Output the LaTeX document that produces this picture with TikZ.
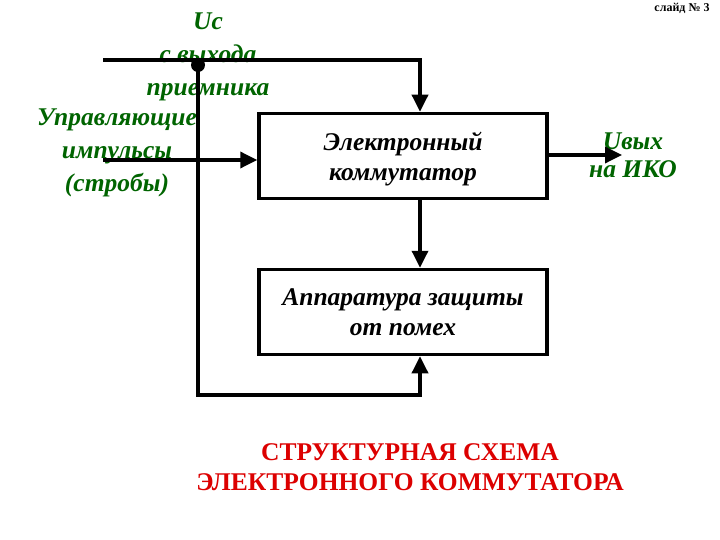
\documentclass[tikz,border=0pt]{standalone}
\usepackage{fontspec}
\setmainfont{Liberation Serif}
\usetikzlibrary{arrows.meta}
\definecolor{lblgreen}{RGB}{0,100,0}
\definecolor{ttlred}{RGB}{220,0,0}
\tikzset{
  blk/.style={draw, line width=3.5pt, minimum width=288pt, minimum height=85pt, align=center, inner sep=0pt,
    text depth=0pt, font=\fontsize{25.5}{30}\selectfont\bfseries\itshape},
  wire/.style={line width=3.5pt},
  arr/.style={line width=3.5pt, -{Triangle[length=17pt,width=16pt]}},
  glbl/.style={text=lblgreen, align=center, inner sep=0pt, font=\fontsize{25.5}{33}\selectfont\bfseries\itshape},
  ttl/.style={text=ttlred, align=center, inner sep=0pt, font=\fontsize{25.5}{30}\selectfont\bfseries},
}
\begin{document}
\begin{tikzpicture}[x=1pt,y=-1pt]
\useasboundingbox (0,0) rectangle (720,540);
\node[blk] (kom) at (403,156) {Электронный\\коммутатор};
\node[blk] (apz) at (403,312) {Аппаратура защиты\\от помех};
\coordinate (ax) at (420,0);
\coordinate (uin) at (103,60);
\coordinate (sin) at (103,160);
\coordinate (dot) at (198,65);
\coordinate (fb) at (198,395);
\coordinate (outend) at (622,155);
% labels
\node[glbl] (uc) at (208,57) {Uc\\с выхода\\приемника};
\node[glbl] (upr) at (117,153) {Управляющие\\импульсы\\(стробы)};
\node[glbl, font=\fontsize{25.5}{28}\selectfont\bfseries\itshape] (uvyx) at (633,155) {Uвых\\на ИКО};
% connectors
\draw[arr] (uin) -- (uin -| ax) -- (ax |- kom.north);
\draw[arr] (sin) -- (sin -| kom.west);
\draw[arr] (kom.east |- outend) -- (outend);
\draw[arr] (ax |- kom.south) -- (ax |- apz.north);
\draw[wire] (dot) -- (fb) -- (fb -| ax) -- +(0,-10);
\draw[arr] (fb -| ax) -- (ax |- apz.south);
\fill (dot) circle (7pt);
\node[ttl] (title) at (410,467) {СТРУКТУРНАЯ СХЕМА\\ЭЛЕКТРОННОГО КОММУТАТОРА};
\node[font=\fontsize{12}{13}\selectfont\bfseries, inner sep=0pt] (sl) at (682,8) {слайд № 3};
\end{tikzpicture}
\end{document}
